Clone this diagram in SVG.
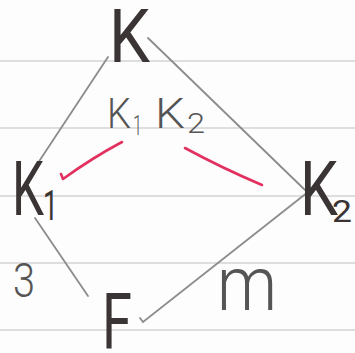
<svg xmlns="http://www.w3.org/2000/svg" width="355" height="353" viewBox="0 0 355 353">
<style>
.rule{stroke:#bfc0c6;stroke-width:1.2}
.edge{stroke:#8c8c8c;stroke-width:1.8;fill:none;stroke-linecap:round}
.red{stroke:#e2305f;stroke-width:2.6;fill:none;stroke-linecap:round;stroke-linejoin:round}
.t{font-family:Roboto,"Open Sans","Liberation Sans",sans-serif;font-weight:400;fill:#3a3434}
.lab{font-family:Roboto,"Open Sans","Liberation Sans",sans-serif;font-weight:300;fill:#555}
</style>
<rect width="355" height="353" fill="#fdfdfd"/>
<g id="paper">
<line class="rule" x1="0" y1="61" x2="355" y2="61"/>
<line class="rule" x1="0" y1="128" x2="355" y2="128"/>
<line class="rule" x1="0" y1="196" x2="355" y2="196"/>
<line class="rule" x1="0" y1="263" x2="355" y2="263"/>
<line class="rule" x1="0" y1="330" x2="355" y2="330"/>
</g>
<g id="connectors">
<path class="edge" d="M108,57 L32,172"/>
<path class="edge" d="M148,38 L305,190"/>
<path class="edge" d="M35,218 L88,296"/>
<path class="edge" d="M140,318 L143,322 L308,192"/>
<path class="red" d="M122,142 Q92,158 63,179 L61,174"/>
<path class="red" d="M185,148 Q222,168 262,185"/>
</g>
<g id="node-K">
<text class="t" x="109" y="62" font-size="74" textLength="41" lengthAdjust="spacingAndGlyphs">K</text>
</g>
<g id="node-K1">
<text class="t" x="12" y="215" font-size="76" textLength="32" lengthAdjust="spacingAndGlyphs">K</text>
<text class="t" x="43" y="220" font-size="42" textLength="15" lengthAdjust="spacingAndGlyphs">1</text>
</g>
<g id="node-K2">
<text class="t" x="300" y="215" font-size="76" textLength="38" lengthAdjust="spacingAndGlyphs">K</text>
<text class="t" x="332" y="222" font-size="31" textLength="20" lengthAdjust="spacingAndGlyphs">2</text>
</g>
<g id="node-F">
<text class="t" x="102" y="349" font-size="78" textLength="30" lengthAdjust="spacingAndGlyphs">F</text>
</g>
<g id="label-K1K2">
<text class="lab" x="107" y="128" font-size="42" textLength="24" lengthAdjust="spacingAndGlyphs">K</text>
<text class="lab" x="133" y="135" font-size="28" textLength="9" lengthAdjust="spacingAndGlyphs">1</text>
<text class="lab" x="155" y="128" font-size="42" textLength="30" lengthAdjust="spacingAndGlyphs">K</text>
<text class="lab" x="187" y="133" font-size="28" textLength="18" lengthAdjust="spacingAndGlyphs">2</text>
</g>
<g id="label-3">
<text class="lab" x="13" y="297" font-size="49" textLength="22" lengthAdjust="spacingAndGlyphs">3</text>
</g>
<g id="label-m">
<text class="lab" x="217" y="310" font-size="76" textLength="60" lengthAdjust="spacingAndGlyphs">m</text>
</g>
</svg>
